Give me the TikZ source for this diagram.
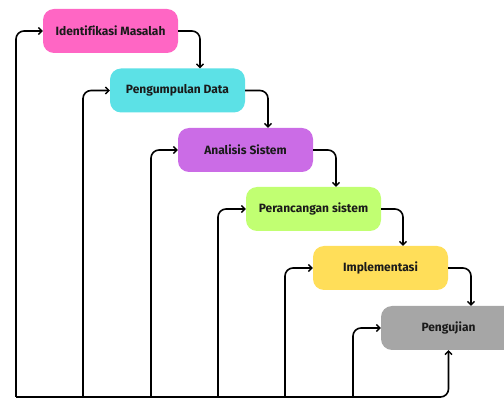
\documentclass[tikz,border=0pt]{standalone}
\usepackage{fontspec}
\setmainfont[Ligatures=NoCommon]{Fira Sans}
\usetikzlibrary{arrows.meta}
\definecolor{cpink}{HTML}{FF66C4}
\definecolor{ccyan}{HTML}{5CE1E6}
\definecolor{cpurple}{HTML}{CB6CE6}
\definecolor{clime}{HTML}{C1FF72}
\definecolor{cyellow}{HTML}{FFDE59}
\definecolor{cgray}{HTML}{A6A6A6}
\definecolor{ctext}{HTML}{1A1A1A}
\tikzset{
  stagebox/.style={rounded corners=11pt, minimum width=135pt, minimum height=44pt,
    inner sep=0pt, font=\fontsize{12}{14}\selectfont\bfseries, text=ctext},
  conn/.style={line width=1.6pt, draw=black, rounded corners=8pt,
    -{Straight Barb[length=3.5pt,width=7pt,line width=1.4pt]}},
  plainline/.style={line width=1.6pt, draw=black}
}
\begin{document}
\begin{tikzpicture}[x=1pt,y=-1pt]
\clip (0,0) rectangle (504,398);
\node[stagebox, fill=cpink]   (b1) at (110.5,31)  {Identifikasi Masalah};
\node[stagebox, fill=ccyan]   (b2) at (177.5,90.5)  {Pengumpulan Data};
\node[stagebox, fill=cpurple] (b3) at (245.5,150) {Analisis Sistem};
\node[stagebox, fill=clime]   (b4) at (313.5,209) {Perancangan sistem};
\node[stagebox, fill=cyellow] (b5) at (380.5,268) {Implementasi};
\node[stagebox, fill=cgray]   (b6) at (448.5,328) {Pengujian};
% forward arrows
\draw[conn] (b1.east) -| ([xshift=22.5pt]b2.north);
\draw[conn] (b2.east) -| ([xshift=22.5pt]b3.north);
\draw[conn] (b3.east) -| ([xshift=22.5pt]b4.north);
\draw[conn] (b4.east) -| ([xshift=22.5pt]b5.north);
\draw[conn] (b5.east) -| ([xshift=22.5pt]b6.north);
% feedback lines
\coordinate (f1) at (16,397);
\coordinate (f2) at (83,397);
\coordinate (f3) at (151,397);
\coordinate (f4) at (218,397);
\coordinate (f5) at (285,397);
\coordinate (f6) at (353,397);
\draw[conn] (f1) -| (b6.south);
\draw[conn] (f1) |- (b1.west);
\draw[conn] (f2) |- (b2.west);
\draw[conn] (f3) |- (b3.west);
\draw[conn] (f4) |- (b4.west);
\draw[conn] (f5) |- (b5.west);
\draw[conn] (f6) |- (b6.west);
\end{tikzpicture}
\end{document}
